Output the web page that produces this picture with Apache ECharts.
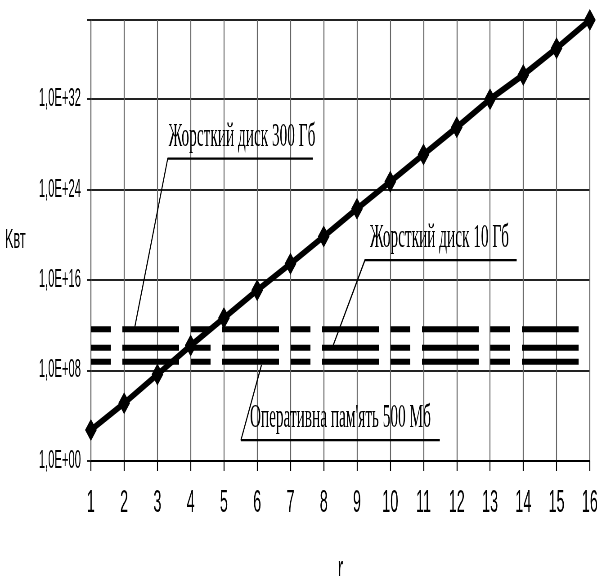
<!DOCTYPE html>
<html><head><meta charset="utf-8">
<script src="https://cdn.jsdelivr.net/npm/echarts@6/dist/echarts.min.js"></script>
<style>
html,body{margin:0;padding:0;overflow:hidden;background:#fff;width:597px;height:576px}
#c{position:absolute;left:0;top:0;width:1327px;height:576px;transform:scaleX(0.44989);transform-origin:0 0}
</style>
</head><body><div id="c"></div>
<script>
// ---- data ----
const rValues = [1,2,3,4,5,6,7,8,9,10,11,12,13,14,15,16];
const kValues = [5.6e2,1.26e5,4.5e7,1.6e10,4.4e12,1.26e15,2.8e17,7.1e19,2e22,5e24,1.26e27,3.2e29,1e32,1.4e34,3.2e36,1e39];
const yTickExponents = [0,8,16,24,32];
const hdd300Level = 4.5e11;   // Жорсткий диск 300 Гб
const hdd10Level  = 1.05e10;  // Жорсткий диск 10 Гб
const ramLevel    = 6e8;      // Оперативна пам'ять 500 Мб
const annotationTexts = ['Жорсткий диск 300 Гб','Жорсткий диск 10 Гб',"Оперативна пам'ять 500 Мб"];
const annotationLeaders = [
  [[2.32,7.1e11],[3.31,5.5e26],[7.67,5.5e26]],
  [[8.27,1.3e10],[9.24,5.9e17],[13.8,5.9e17]],
  [[6.13,3.2e8],[5.51,69],[11.49,69]]
];
const annotationDx = [2,11,20];

const chart = echarts.init(document.getElementById('c'), null, {renderer:'canvas'});
const dashPattern = [44,26,126,26];
function levelSeries(v){
  return {type:'line', data:[[1,v],[16,v]], symbol:'none', silent:true, z:3,
    lineStyle:{color:'#000', width:6, type:dashPattern, cap:'butt'}};
}
const option = {
  backgroundColor:'#fff',
  animation:false,
  grid:{left:202, right:16, top:20, bottom:115, containLabel:false, outerBoundsMode:'none'},
  xAxis:{type:'value', min:1, max:16, interval:1,
    name:'r', nameLocation:'middle', nameGap:92,
    nameTextStyle:{fontSize:36, color:'#000', fontFamily:'Liberation Sans'},
    axisLine:{show:true, lineStyle:{color:'#000', width:2}},
    axisTick:{show:true, length:10, lineStyle:{color:'#000', width:2.2}},
    axisLabel:{fontSize:32, color:'#000', margin:26, fontFamily:'Liberation Sans'},
    splitLine:{show:true, lineStyle:{color:'#666', width:2.2}}
  },
  yAxis:{type:'log', logBase:1e8, min:1, max:1e39,
    name:'Kвт', nameLocation:'middle', nameRotate:0, nameGap:145,
    nameTextStyle:{fontSize:28, color:'#000', fontFamily:'Liberation Sans'},
    axisLine:{show:true, lineStyle:{color:'#666', width:2.2}},
    axisTick:{show:true, length:9, lineStyle:{color:'#222', width:2}},
    axisLabel:{fontSize:25, color:'#000', margin:22, fontFamily:'Liberation Sans',
      formatter:function(v){
        const e = Math.round(Math.log10(v));
        if (yTickExponents.indexOf(e) < 0) return '';
        return '1,0E+' + (e<10?'0':'') + e;
      }},
    splitLine:{show:true, lineStyle:{color:'#222', width:2}}
  },
  series:[
    levelSeries(hdd300Level),
    levelSeries(hdd10Level),
    levelSeries(ramLevel),
    ...annotationLeaders.map(pts => ({type:'line', data:pts, symbol:'none', silent:true, z:4,
      lineStyle:{color:'#000', width:2.2}})),
    {type:'line', data:rValues.map((r,i)=>[r,kValues[i]]), symbol:'diamond', symbolSize:[26,22],
      clip:false, z:10,
      lineStyle:{color:'#000', width:7}, itemStyle:{color:'#000'}}
  ]
};
chart.setOption(option);
const g = annotationLeaders.map((pts,i) => {
  const p = chart.convertToPixel({xAxisIndex:0, yAxisIndex:0}, pts[1]);
  return {type:'text', x:p[0]+annotationDx[i], y:p[1]-22, z:20,
    style:{text:annotationTexts[i], fontSize:34, fontFamily:'Liberation Serif', fill:'#000',
      textAlign:'left', textVerticalAlign:'middle'}};
});
chart.setOption({graphic:g});
</script>
</body></html>
